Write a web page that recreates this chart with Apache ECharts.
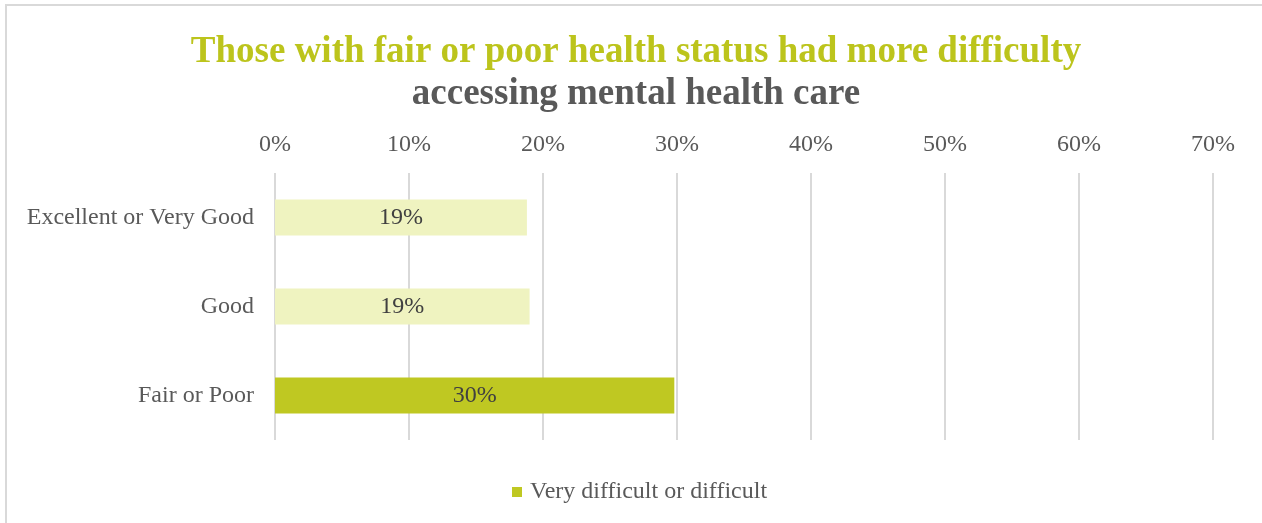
<!DOCTYPE html>
<html>
<head>
<meta charset="utf-8">
<style>
  html, body { margin: 0; padding: 0; background: #ffffff; }
  #chart { width: 1262px; height: 523px; }
</style>
<script src="https://cdn.jsdelivr.net/npm/echarts@6/dist/echarts.min.js"></script>
</head>
<body>
<div id="chart"></div>
<script>
// Share reporting difficulty accessing mental health care, by self-rated health
const categories = ['Excellent or Very Good', 'Good', 'Fair or Poor'];
const values = [18.8, 19.0, 29.8];
const valueLabels = ['19%', '19%', '30%'];
const barColors = ['#EFF3C0', '#EFF3C0', '#BFC822'];
const seriesName = 'Very difficult or difficult';
const axisTicks = [0, 10, 20, 30, 40, 50, 60, 70];

const FONT = '"Liberation Serif", "Times New Roman", serif';
const chart = echarts.init(document.getElementById('chart'));

chart.setOption({
  animation: false,
  backgroundColor: '#ffffff',
  graphic: [{
    type: 'rect',
    shape: { x: 6, y: 5, width: 1400, height: 700 },
    style: { fill: 'none', stroke: '#D9D9D9', lineWidth: 2 },
    silent: true
  }],
  title: [
    {
      text: 'Those with fair or poor health status had more difficulty',
      left: 631,
      textAlign: 'center',
      top: 29,
      textStyle: { fontFamily: FONT, fontSize: 37, fontWeight: 'bold', color: '#BCC41C' }
    },
    {
      text: 'accessing mental health care',
      left: 631,
      textAlign: 'center',
      top: 71,
      textStyle: { fontFamily: FONT, fontSize: 37, fontWeight: 'bold', color: '#595959' }
    }
  ],
  legend: {
    data: [{ name: seriesName, itemStyle: { color: '#BFC822' } }],
    left: 507,
    top: 475,
    icon: 'rect',
    itemWidth: 10,
    itemHeight: 10,
    textStyle: { fontFamily: FONT, fontSize: 24, color: '#595959', padding: [0, 0, 0, 3] }
  },
  grid: { left: 275, right: 49, top: 173, bottom: 83, containLabel: false },
  xAxis: {
    type: 'value',
    position: 'top',
    min: axisTicks[0],
    max: axisTicks[axisTicks.length - 1],
    interval: 10,
    axisLine: { show: false },
    axisTick: { show: false },
    axisLabel: {
      margin: 16,
      fontFamily: FONT,
      fontSize: 24,
      color: '#595959',
      formatter: v => v + '%'
    },
    splitLine: { show: true, lineStyle: { color: '#D9D9D9', width: 2 } }
  },
  yAxis: {
    type: 'category',
    data: categories,
    inverse: true,
    axisLine: { show: false },
    axisTick: { show: false },
    axisLabel: { margin: 21, fontFamily: FONT, fontSize: 24, color: '#595959' }
  },
  series: [{
    name: seriesName,
    type: 'bar',
    barWidth: 36,
    data: values.map((v, i) => ({ value: v, itemStyle: { color: barColors[i] } })),
    label: {
      show: true,
      position: 'inside',
      fontFamily: FONT,
      fontSize: 24,
      color: '#404040',
      formatter: p => valueLabels[p.dataIndex]
    }
  }]
});
</script>
</body>
</html>
